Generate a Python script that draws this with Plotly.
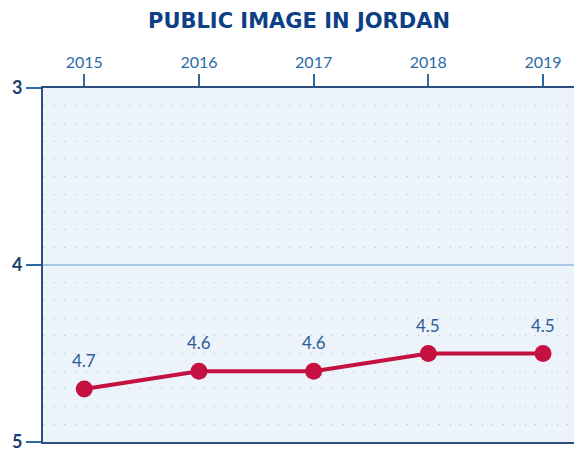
import plotly.graph_objects as go

# data
years = [2015, 2016, 2017, 2018, 2019]
scores = [4.7, 4.6, 4.6, 4.5, 4.5]
labels = ['4.7', '4.6', '4.6', '4.5', '4.5']
y_ticks = [3, 4, 5]

fig = go.Figure()

fig.add_trace(go.Scatter(
    x=years, y=scores,
    mode='lines+markers',
    line=dict(color='#c4113f', width=4),
    marker=dict(color='#c4113f', size=17),
    cliponaxis=False,
    showlegend=False,
))

# value labels above the points
for yr, sc, lb in zip(years, scores, labels):
    fig.add_annotation(x=yr, y=sc, text=lb, showarrow=False,
                       yanchor='bottom', yshift=16,
                       font=dict(family='Lato', size=17, color='#2b5d94'))

# page body adds ~8px offset, so the figure is a bit smaller than the window
fig.update_layout(
    width=574, height=445,
    margin=dict(l=35, r=0, t=80, b=11),
    paper_bgcolor='white',
    plot_bgcolor='#edf3fb',
    title=dict(text='<b>PUBLIC IMAGE IN JORDAN</b>', x=0.507, xanchor='center',
               y=0.972, yanchor='middle',
               font=dict(family='DejaVu Sans', size=21, color='#0d3f85')),
)

fig.update_xaxes(
    side='top', range=[2014.64, 2019.34], automargin=False,
    tickvals=years, ticktext=[str(y) for y in years],
    ticks='outside', ticklen=12, tickwidth=2, tickcolor='#2b6aa6',
    tickfont=dict(family='Lato', size=16, color='#2b6aa6'),
    showgrid=False, zeroline=False,
    showline=True, linecolor='#2b4f80', linewidth=2, mirror=True,
)

fig.update_yaxes(
    range=[5, 3], tickvals=y_ticks, automargin=False,
    ticks='outside', ticklen=15, tickwidth=2, tickcolor='#2b6aa6',
    tickfont=dict(family='Lato', size=18, color='#1b3f6e', weight='bold'),
    showgrid=True, gridcolor='#a8c6e6', gridwidth=2,
    minor=dict(dtick=0.1, showgrid=True, gridcolor='#b4bcc8', gridwidth=1,
               griddash='1px,9.7px', ticks=''),
    zeroline=False,
    showline=True, linecolor='#2b4f80', linewidth=2, mirror=False,
)

fig.write_html('out.html')
